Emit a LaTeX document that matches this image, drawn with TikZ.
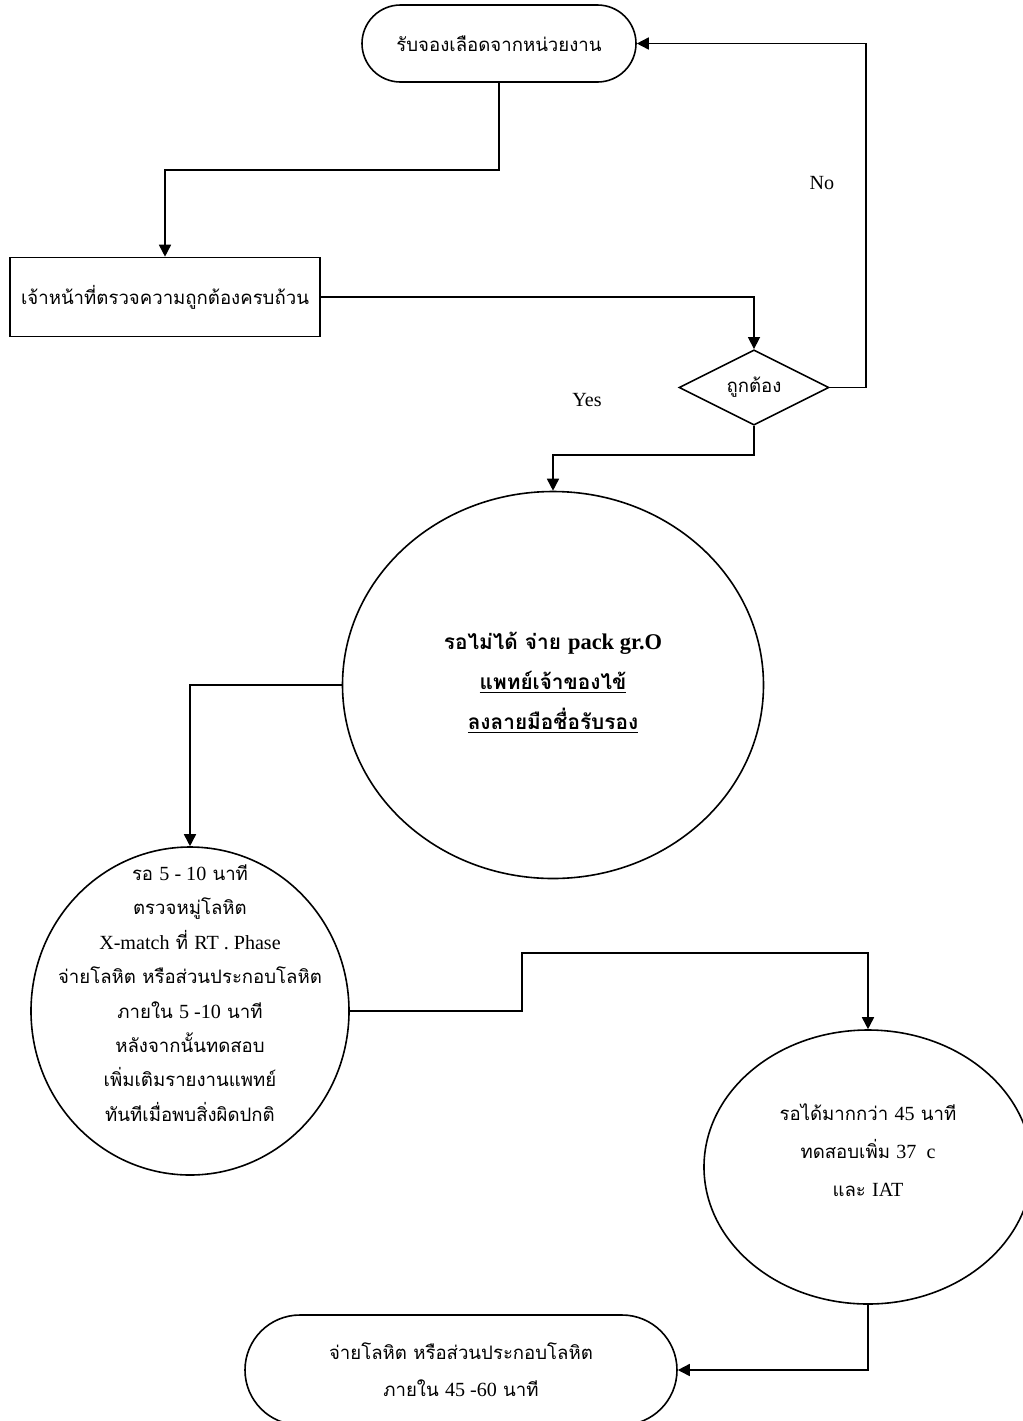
\documentclass[tikz,border=0pt]{standalone}
\usepackage{fontspec}
\setmainfont{Loma}[Script=Thai]
\newfontfamily\latfont{Liberation Serif}[Scale=1.08]
\newcommand{\lat}[1]{{\latfont #1}}
\usetikzlibrary{arrows.meta,shapes,positioning}

\begin{document}
\begin{tikzpicture}[x=0.5pt,y=-0.5pt,>={Triangle[length=6pt,width=6pt]},font=\fontsize{9.3}{17.2}\selectfont]
  \tikzstyle{terminal}=[rounded rectangle,thick,draw=black,inner sep=0pt]
  \tikzstyle{process}=[rectangle,thick,draw=black,minimum width=155pt,minimum height=39.5pt]
  \tikzstyle{decision}=[diamond,thick,draw=black,inner sep=0pt,minimum width=75pt,minimum height=32.5pt]
  \tikzstyle{bubble}=[ellipse,thick,draw=black,inner sep=0pt]
  \tikzstyle{txt}=[align=center,inner sep=0pt]
  \tikzstyle{every label}=[black]

  \useasboundingbox (0,0) rectangle (1023,1421);

  \begin{scope}
    % boxes of the flow
    \node [terminal,minimum width=137pt,minimum height=38.5pt] (start) at (499,43.5) {รับจองเลือดจากหน่วยงาน};
    \node [process] (check) at (165,297) {เจ้าหน้าที่ตรวจความถูกต้องครบถ้วน};
    \node [decision] (valid) at (754,387.5) {ถูกต้อง};
    \node [bubble,minimum width=210.5pt,minimum height=193.5pt] (urgent) at (553,685) {};
    \node [txt,font=\fontsize{10.4}{20}\selectfont\bfseries] (urgenttxt) at (553,683)
      {รอไม่ได้ จ่าย \lat{\bfseries pack gr.O}\\ \underline{แพทย์เจ้าของไข้}\\ \underline{ลงลายมือชื่อรับรอง}};
    \node [bubble,minimum width=159pt,minimum height=164pt] (short) at (190,1011) {};
    \node [txt] (shorttxt) at (190,993)
      {รอ \lat{5 - 10} นาที\\ ตรวจหมู่โลหิต\\ \lat{X-match} ที่ \lat{RT . Phase}\\
       จ่ายโลหิต หรือส่วนประกอบโลหิต\\ ภายใน \lat{5 -10} นาที\\ หลังจากนั้นทดสอบ\\
       เพิ่มเติมรายงานแพทย์\\ ทันทีเมื่อพบสิ่งผิดปกติ};
    \node [bubble,minimum width=164pt,minimum height=137pt] (long) at (868,1167) {};
    \node [txt,font=\fontsize{9.3}{19}\selectfont] (longtxt) at (868,1150)
      {รอได้มากกว่า \lat{45} นาที\\ ทดสอบเพิ่ม \lat{37~~c}\\ และ \lat{IAT}};
    \node [terminal,minimum width=216pt,minimum height=55pt,align=center,font=\fontsize{9.3}{18.5}\selectfont] (finish) at (461,1370)
      {จ่ายโลหิต หรือส่วนประกอบโลหิต\\ ภายใน \lat{45 -60} นาที};
    \node [font=\latfont\fontsize{9.3}{11}\selectfont] (no) at (822,183) {No};
    \node [font=\latfont\fontsize{9.3}{11}\selectfont] (yes) at (587,400) {Yes};
  \end{scope}

  \coordinate (k1) at (499,170);
  \coordinate (k2) at (866,387.5);
  \coordinate (k3) at (754,455);
  \coordinate (k4) at (522,1011);
  \coordinate (k5) at (522,953);

  \begin{scope}
    \draw [->, thick] (start) -- (k1) -| (check);
    \draw [->, thick] (check) -| (valid);
    \draw [->, thick] (valid) -- (k2) |- (start);
    \draw [->, thick] (valid) -- (k3) -| (urgent);
    \draw [->, thick] (urgent) -| (short);
    \draw [->, thick] (short.east) -- (k4) -- (k5) -| (long);
    \draw [->, thick] (long) |- (finish);
  \end{scope}
\end{tikzpicture}
\end{document}
